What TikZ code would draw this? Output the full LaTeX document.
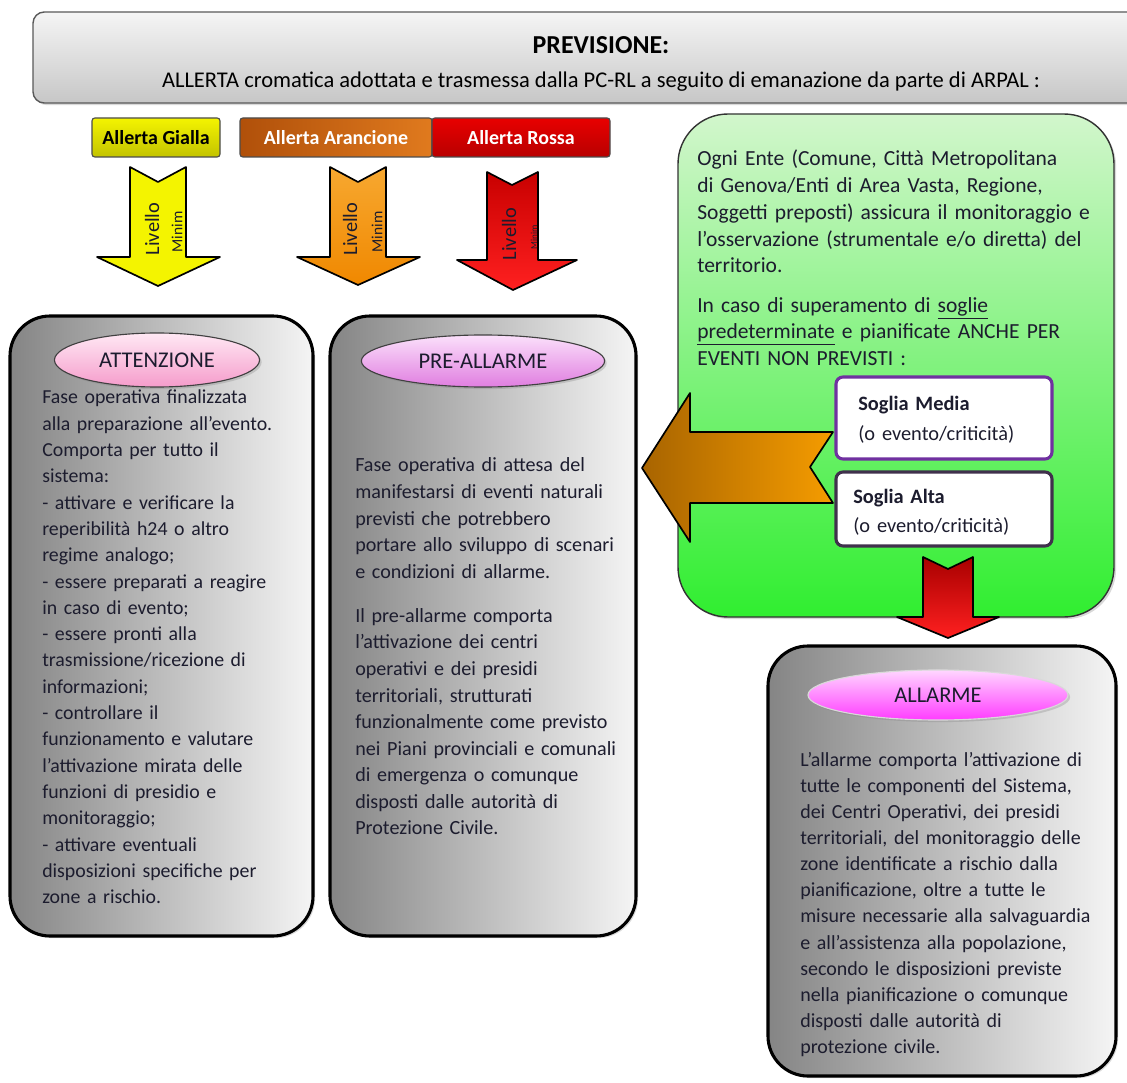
\documentclass[tikz,border=0pt]{standalone}
\usepackage{fontspec}
\setmainfont{Carlito}
\usetikzlibrary{positioning,fit,shapes.geometric,shadows}

\definecolor{testo}{HTML}{1C1C2E}
\definecolor{giallo}{HTML}{F4F400}
\definecolor{viola}{HTML}{7030A0}
\definecolor{violascuro}{HTML}{40304C}
\definecolor{aranA}{HTML}{B0500A}
\definecolor{aranB}{HTML}{E07A1E}
\definecolor{rossA}{HTML}{E80000}
\definecolor{rossB}{HTML}{B80000}
\definecolor{frecA}{HTML}{F7A830}
\definecolor{frecB}{HTML}{F08800}
\definecolor{frecR1}{HTML}{C80000}
\definecolor{frecR2}{HTML}{FF2020}
\definecolor{frecR3}{HTML}{A80000}
\definecolor{grandeA}{HTML}{A86400}
\definecolor{grandeB}{HTML}{F59C00}
\definecolor{verdeA}{HTML}{D2F6CC}
\definecolor{verdeB}{HTML}{30EE30}
\definecolor{rosaA}{HTML}{FFE8F4}
\definecolor{rosaB}{HTML}{F59CCB}
\definecolor{lillaA}{HTML}{FBE0FB}
\definecolor{lillaB}{HTML}{E07EE0}
\definecolor{magA}{HTML}{FFD6FF}
\definecolor{magB}{HTML}{FF3CFF}

\tikzset{
  ombra/.style={drop shadow={opacity=0.3, shadow xshift=1.5pt, shadow yshift=-1.5pt}},
  fasebox/.style={draw=black, line width=2.2pt, rounded corners=1cm, inner sep=0pt,
    left color=black!48, right color=black!4, ombra},
  allerta/.style={draw=black!70, line width=0.8pt, rounded corners=2pt, inner sep=0pt},
  fasetitolo/.style={ellipse, draw=black!75, line width=0.8pt, inner sep=0pt,
    font=\fontsize{16}{18}\selectfont, text=testo, ombra},
  freccia/.style={draw=black, line width=1.2pt, line join=round},
  corpotesto/.style={anchor=base west, inner sep=0pt, align=left, text width=10cm, text=testo},
  soglia/.style={draw, fill=white, line width=2.2pt, rounded corners=5pt, inner sep=0pt},
  livello/.style={rotate=90, inner sep=0pt, text=testo}
}

\begin{document}
\begin{tikzpicture}[x=0.025cm, y=-0.025cm]
\useasboundingbox (0,0) rectangle (1127,1083);
% intestazione
\node (prev) [fit={(33,12) (1150,103)}, draw=black!65, line width=1pt, rounded corners=8pt,
  inner sep=0pt, top color=black!4, bottom color=black!22, ombra] {};
\node (titolo) at (601,45) {\fontsize{18.4}{20}\selectfont\bfseries PREVISIONE:};
\node (sottotitolo) at (601,82) {\fontsize{16}{18}\selectfont ALLERTA cromatica adottata e trasmessa dalla PC-RL a seguito di emanazione da parte di ARPAL :};
%
% livelli di allerta
\node (gialla) [allerta, fit={(92,118) (220,157)}, top color=giallo, bottom color=giallo!80!black] {};
\node at (gialla) {\fontsize{14.2}{16}\selectfont\bfseries Allerta Gialla};
\node (arancione) [allerta, fit={(240,118) (432,157)}, left color=aranA, right color=aranB] {};
\node[text=white] at (arancione) {\fontsize{14.2}{16}\selectfont\bfseries Allerta Arancione};
\node (rossa) [allerta, fit={(432,118) (610,157)}, top color=rossA, bottom color=rossB] {};
\node[text=white] at (rossa) {\fontsize{14.2}{16}\selectfont\bfseries Allerta Rossa};
%
\draw[freccia, fill=giallo] (130,167) -- (158,182) -- (186,167) -- (186,257) -- (220,257)
  -- (158,286) -- (97,257) -- (130,257) -- cycle;
\node (livG) [livello] at (152,229) {\fontsize{14.5}{15}\selectfont Livello};
\node (minG) [livello] at (177,232) {\fontsize{11}{12}\selectfont Minim};
\draw[freccia, top color=frecA, bottom color=frecB] (330,167) -- (358,182) -- (386,167)
  -- (386,257) -- (420,257) -- (358,285) -- (297,257) -- (330,257) -- cycle;
\node (livA) [livello] at (350,229) {\fontsize{14.5}{15}\selectfont Livello};
\node (minA) [livello] at (377,232) {\fontsize{11}{12}\selectfont Minim};
\draw[freccia, top color=frecR1, bottom color=frecR2] (487,172) -- (512,185) -- (538,172)
  -- (538,260) -- (577,260) -- (513,290) -- (457,260) -- (487,260) -- cycle;
\node (livR) [livello] at (509,234) {\fontsize{14.5}{15}\selectfont Livello};
\node (minR) [livello] at (534,237) {\fontsize{6.5}{7}\selectfont Minim};
%
% fasi operative
\node (attenzione) [fasebox, fit={(10,316) (313,936)}] {};
\node (titAtt) [fasetitolo, minimum width=5.125cm, minimum height=1.35cm, top color=rosaA,
  bottom color=rosaB] at (157,360) {ATTENZIONE};
\node (txtAtt) [corpotesto, font=\fontsize{14.1}{18.7}\selectfont] at (42,404) {Fase operativa finalizzata\\
alla preparazione all’evento.\\
Comporta per tutto il\\
sistema:\\
- attivare e verificare la\\
reperibilità h24 o altro\\
regime analogo;\\
- essere preparati a reagire\\
in caso di evento;\\
- essere pronti alla\\
trasmissione/ricezione di\\
informazioni;\\
- controllare il\\
funzionamento e valutare\\
l’attivazione mirata delle\\
funzioni di presidio e\\
monitoraggio;\\
- attivare eventuali\\
disposizioni specifiche per\\
zone a rischio.};
%
\node (preallarme) [fasebox, fit={(330,316) (636,936)}] {};
\node (titPre) [fasetitolo, minimum width=6.08cm, minimum height=1.3cm, top color=lillaA,
  bottom color=lillaB] at (483,361) {PRE-ALLARME};
\node (txtPre) [corpotesto, font=\fontsize{14.3}{18.9}\selectfont] at (355,472) {Fase operativa di attesa del\\
manifestarsi di eventi naturali\\
previsti che potrebbero\\
portare allo sviluppo di scenari\\
e condizioni di allarme.\\[12.4pt]
Il pre-allarme comporta\\
l’attivazione dei centri\\
operativi e dei presidi\\
territoriali, strutturati\\
funzionalmente come previsto\\
nei Piani provinciali e comunali\\
di emergenza o comunque\\
disposti dalle autorità di\\
Protezione Civile.};
%
% monitoraggio
\node (monitor) [fit={(678,114) (1114,617)}, draw=black!80, line width=1pt, rounded corners=1.25cm,
  inner sep=0pt, top color=verdeA, bottom color=verdeB, ombra] {};
\node (txtMon) [corpotesto, font=\fontsize{15.3}{19}\selectfont] at (697,166) {Ogni Ente (Comune, Città Metropolitana\\
di Genova/Enti di Area Vasta, Regione,\\
Soggetti preposti) assicura il monitoraggio e\\
l’osservazione (strumentale e/o diretta) del\\
territorio.\\[9pt]
In caso di superamento di \underline{soglie}\\
\underline{predeterminate} e pianificate ANCHE PER\\
EVENTI NON PREVISTI :};
\node (media) [soglia, draw=viola, fit={(836,377) (1052,459)}] {};
\node (txtMedia) [corpotesto, text width=5cm, font=\fontsize{14.5}{21}\selectfont] at (858,411) {\textbf{Soglia Media}\\
(o evento/criticità)};
\node (alta) [soglia, draw=violascuro, fit={(836,472) (1052,546)}] {};
\node (txtAlta) [corpotesto, text width=5cm, font=\fontsize{14.5}{21}\selectfont] at (853,503) {\textbf{Soglia Alta}\\
(o evento/criticità)};
%
\draw[freccia, left color=grandeA, right color=grandeB] (642,468) -- (690,393) -- (690,432)
  -- (833,432) -- (810,467) -- (833,503) -- (690,503) -- (690,542) -- cycle;
\draw[freccia, top color=frecR3, bottom color=frecR2] (923,557) -- (948,569) -- (973,557)
  -- (973,617) -- (999,617) -- (948,638) -- (897,617) -- (923,617) -- cycle;
%
\node (allarme) [fasebox, fit={(768,646) (1116,1076)}] {};
\node (titAll) [fasetitolo, draw=black!15, minimum width=6.5cm, minimum height=1.25cm,
  top color=magA, bottom color=magB] at (938,695) {ALLARME};
\node (txtAll) [corpotesto, font=\fontsize{14.2}{18.6}\selectfont] at (800,766) {L’allarme comporta l’attivazione di\\
tutte le componenti del Sistema,\\
dei Centri Operativi, dei presidi\\
territoriali, del monitoraggio delle\\
zone identificate a rischio dalla\\
pianificazione, oltre a tutte le\\
misure necessarie alla salvaguardia\\
e all’assistenza alla popolazione,\\
secondo le disposizioni previste\\
nella pianificazione o comunque\\
disposti dalle autorità di\\
protezione civile.};
\end{tikzpicture}
\end{document}
